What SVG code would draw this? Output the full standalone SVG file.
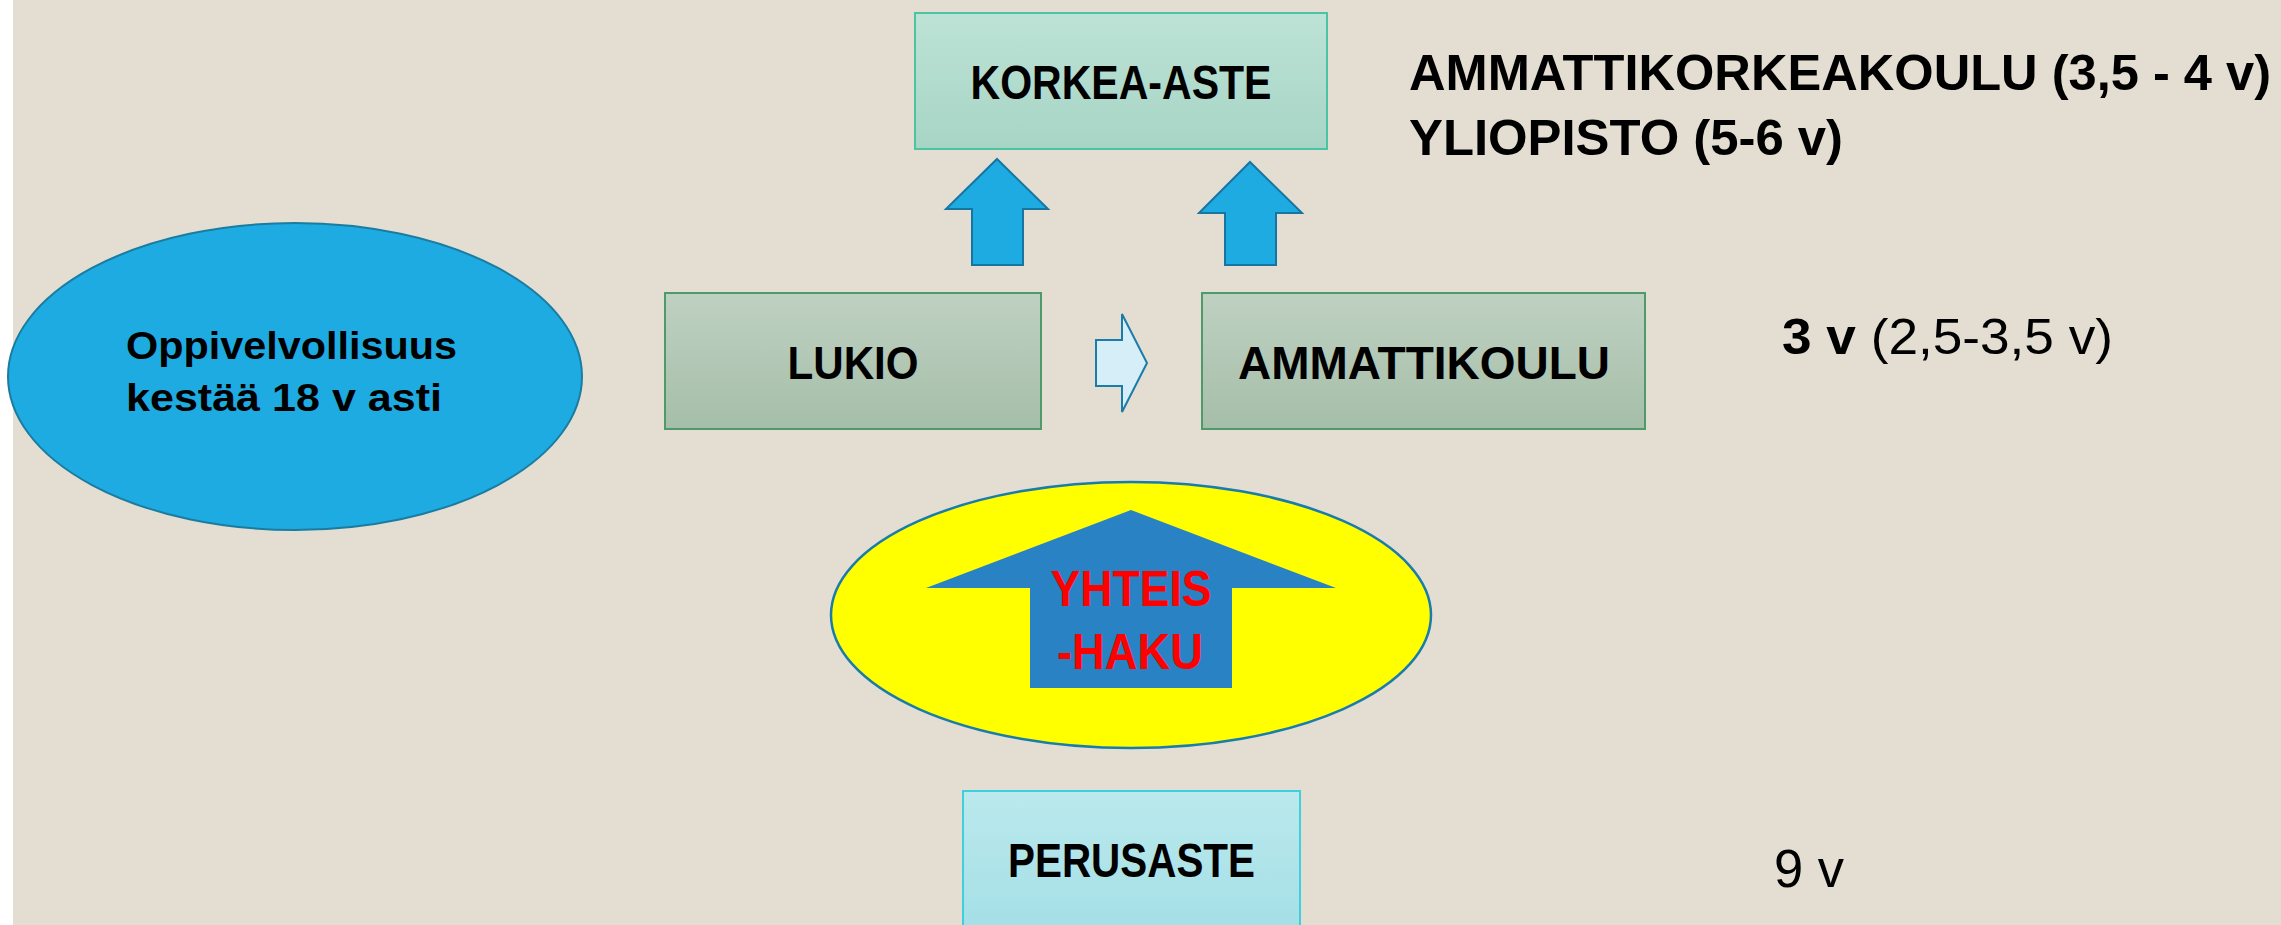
<svg xmlns="http://www.w3.org/2000/svg" width="2281" height="925" viewBox="0 0 2281 925">
<defs>
<linearGradient id="gK" x1="0" y1="0" x2="0" y2="1"><stop offset="0" stop-color="#bde3d6"/><stop offset="1" stop-color="#a7d5c5"/></linearGradient>
<linearGradient id="gL" x1="0" y1="0" x2="0" y2="1"><stop offset="0" stop-color="#bfd1c1"/><stop offset="1" stop-color="#a5bea9"/></linearGradient>
<linearGradient id="gP" x1="0" y1="0" x2="0" y2="1"><stop offset="0" stop-color="#bbe9ed"/><stop offset="1" stop-color="#a2dfe5"/></linearGradient>
<style>
.lbl{font-family:"Liberation Sans",Arial,sans-serif;font-weight:bold;fill:#000}
.info{font-family:"Liberation Sans",Arial,sans-serif;fill:#000}
.uparrow{fill:#1eabe2;stroke:#1676a0;stroke-width:2}
</style>
</defs>
<rect width="2281" height="925" fill="#e3ddd2"/>
<rect x="0" y="0" width="13" height="925" fill="#ffffff"/>

<g id="korkea-aste">
<rect x="915" y="13" width="412" height="136" fill="url(#gK)" stroke="#4cc3a2" stroke-width="2"/>
<text class="lbl" x="1121" y="99" font-size="47.5" text-anchor="middle" textLength="301" lengthAdjust="spacingAndGlyphs">KORKEA-ASTE</text>
</g>

<g id="lukio">
<rect x="665" y="293" width="376" height="136" fill="url(#gL)" stroke="#4f9a6a" stroke-width="2"/>
<text class="lbl" x="853" y="379" font-size="46" text-anchor="middle" textLength="131" lengthAdjust="spacingAndGlyphs">LUKIO</text>
</g>

<g id="ammattikoulu">
<rect x="1202" y="293" width="443" height="136" fill="url(#gL)" stroke="#4f9a6a" stroke-width="2"/>
<text class="lbl" x="1424" y="379" font-size="46" text-anchor="middle" textLength="372" lengthAdjust="spacingAndGlyphs">AMMATTIKOULU</text>
</g>

<g id="oppivelvollisuus">
<ellipse cx="295" cy="376.5" rx="287" ry="153.5" fill="#1eabe2" stroke="#1a7ca0" stroke-width="2"/>
<text class="lbl" x="126" y="359" font-size="38" textLength="331" lengthAdjust="spacingAndGlyphs">Oppivelvollisuus</text>
<text class="lbl" x="126" y="411" font-size="38" textLength="316" lengthAdjust="spacingAndGlyphs">kestää 18 v asti</text>
</g>

<g id="yhteishaku">
<ellipse cx="1131" cy="615" rx="300" ry="133" fill="#ffff00" stroke="#1a7ca8" stroke-width="2.5"/>
<polygon points="1131,510 1336,588 1232,588 1232,688 1030,688 1030,588 926,588" fill="#2882c4"/>
<text class="lbl" x="1131" y="606" font-size="50" text-anchor="middle" style="fill:#ff0000" textLength="161" lengthAdjust="spacingAndGlyphs">YHTEIS</text>
<text class="lbl" x="1130" y="669" font-size="50" text-anchor="middle" style="fill:#ff0000" textLength="146" lengthAdjust="spacingAndGlyphs">-HAKU</text>
</g>

<g id="perusaste">
<rect x="963" y="791" width="337" height="150" fill="url(#gP)" stroke="#3fd0df" stroke-width="2"/>
<text class="lbl" x="1131.5" y="877" font-size="49" text-anchor="middle" textLength="247" lengthAdjust="spacingAndGlyphs">PERUSASTE</text>
</g>

<g id="korkea-info">
<text class="lbl" x="1409" y="90" font-size="50" textLength="862" lengthAdjust="spacingAndGlyphs">AMMATTIKORKEAKOULU (3,5 - 4 v)</text>
<text class="lbl" x="1409" y="155" font-size="50" textLength="434" lengthAdjust="spacingAndGlyphs">YLIOPISTO (5-6 v)</text>
</g>

<g id="toinen-aste-info">
<text class="info" x="1782" y="354" font-size="50" textLength="331" lengthAdjust="spacingAndGlyphs"><tspan font-weight="bold">3 v</tspan> (2,5-3,5 v)</text>
</g>

<g id="perusaste-info">
<text class="info" x="1774" y="887" font-size="53" textLength="70" lengthAdjust="spacingAndGlyphs">9 v</text>
</g>

<g id="connectors">
<polygon class="uparrow" points="997,159 1048,209 1023,209 1023,265 972,265 972,209 946,209"/>
<polygon class="uparrow" points="1250,162 1302,213 1276,213 1276,265 1225,265 1225,213 1199,213"/>
<polygon points="1096,340 1122,340 1122,314 1147,363 1122,412 1122,386 1096,386" fill="#d5eef8" stroke="#1a7ca8" stroke-width="2"/>
</g>
</svg>
